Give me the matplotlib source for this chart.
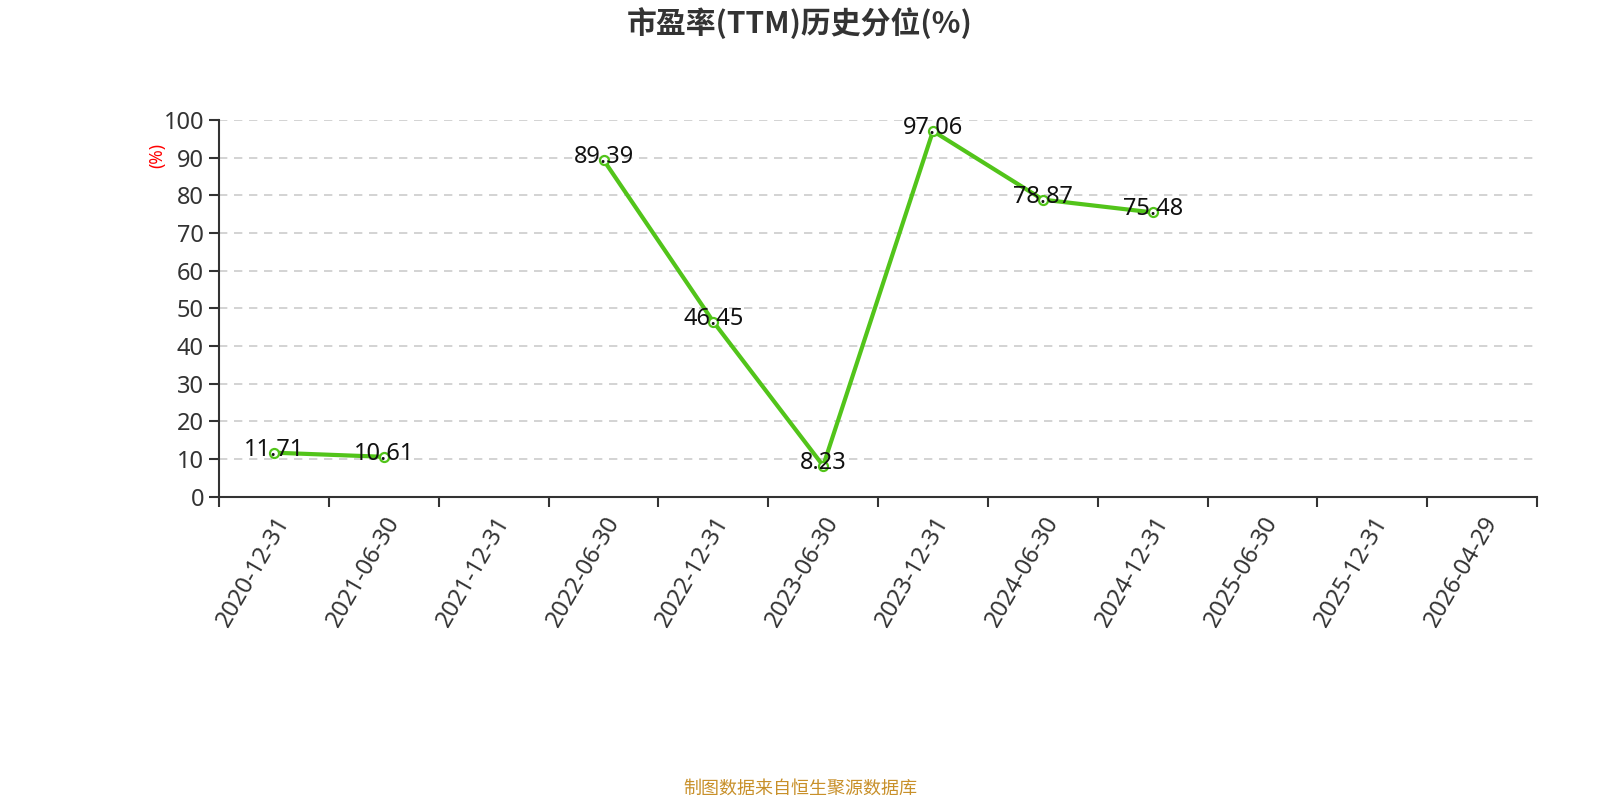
import numpy as np
import matplotlib.pyplot as plt

plt.rcParams['font.family'] = ['Noto Sans', 'Noto Sans CJK SC', 'DejaVu Sans']

dates = ['2020-12-31', '2021-06-30', '2021-12-31', '2022-06-30', '2022-12-31',
         '2023-06-30', '2023-12-31', '2024-06-30', '2024-12-31', '2025-06-30',
         '2025-12-31', '2026-04-29']
pe_pct = [11.71, 10.61, None, 89.39, 46.45, 8.23, 97.06, 78.87, 75.48, None, None, None]
y_ticks = [0, 10, 20, 30, 40, 50, 60, 70, 80, 90, 100]

vals = np.array([np.nan if v is None else v for v in pe_pct])
x = np.arange(len(dates))

fig = plt.figure(figsize=(16, 8), dpi=100)
ax = fig.add_axes([0.137, 0.379, 0.8236, 0.471])

green = '#52c41a'
ax.plot(x, vals, color=green, lw=3, marker='o', ms=6.5, mfc='white', mec=green, mew=1.6, zorder=3)
for xi, v in zip(x, vals):
    if not np.isnan(v):
        ax.text(xi, v + 0.8, f'{v:.2f}', ha='center', va='center', fontsize=17, color='#111', zorder=4)

ax.set_xlim(-0.5, len(dates) - 0.5)
ax.set_ylim(0, 100)
ax.set_yticks(y_ticks)
ax.set_yticklabels([str(t) for t in y_ticks], fontsize=17, color='#333')
ax.set_xticks(np.arange(len(dates) + 1) - 0.5)
ax.set_xticklabels([])
ax.set_xticks(x, minor=True)
ax.set_xticklabels(dates, minor=True, rotation=60, ha='right', va='top',
                   rotation_mode='anchor', fontsize=17, color='#333')
ax.tick_params(axis='x', which='minor', length=0, pad=11)
ax.tick_params(axis='x', which='major', length=7, width=1.5, color='#333')
ax.tick_params(axis='y', length=7, width=1.5, color='#333', pad=4)

for t in y_ticks[1:]:
    ax.axhline(t, color='#cccccc', lw=1.2, ls=(0, (5, 4)), zorder=1)

for s in ['top', 'right']:
    ax.spines[s].set_visible(False)
ax.spines['left'].set_color('#333')
ax.spines['left'].set_linewidth(1.5)
ax.spines['bottom'].set_color('#333')
ax.spines['bottom'].set_linewidth(1.5)

fig.text(0.098, 0.806, '(%)', rotation=90, color='red', fontsize=12.5,
         ha='center', va='center')
fig.text(0.5, 0.971, '市盈率(TTM)历史分位(%)', ha='center', va='center',
         fontsize=21.5, fontweight='bold', color='#333',
         family=['Noto Sans CJK SC', 'DejaVu Sans'])
fig.text(0.5, 0.014, '制图数据来自恒生聚源数据库', ha='center', va='center',
         fontsize=13, color='#c8902a', family=['Noto Sans CJK SC', 'DejaVu Sans'])

fig.savefig('out.png', dpi=100)
